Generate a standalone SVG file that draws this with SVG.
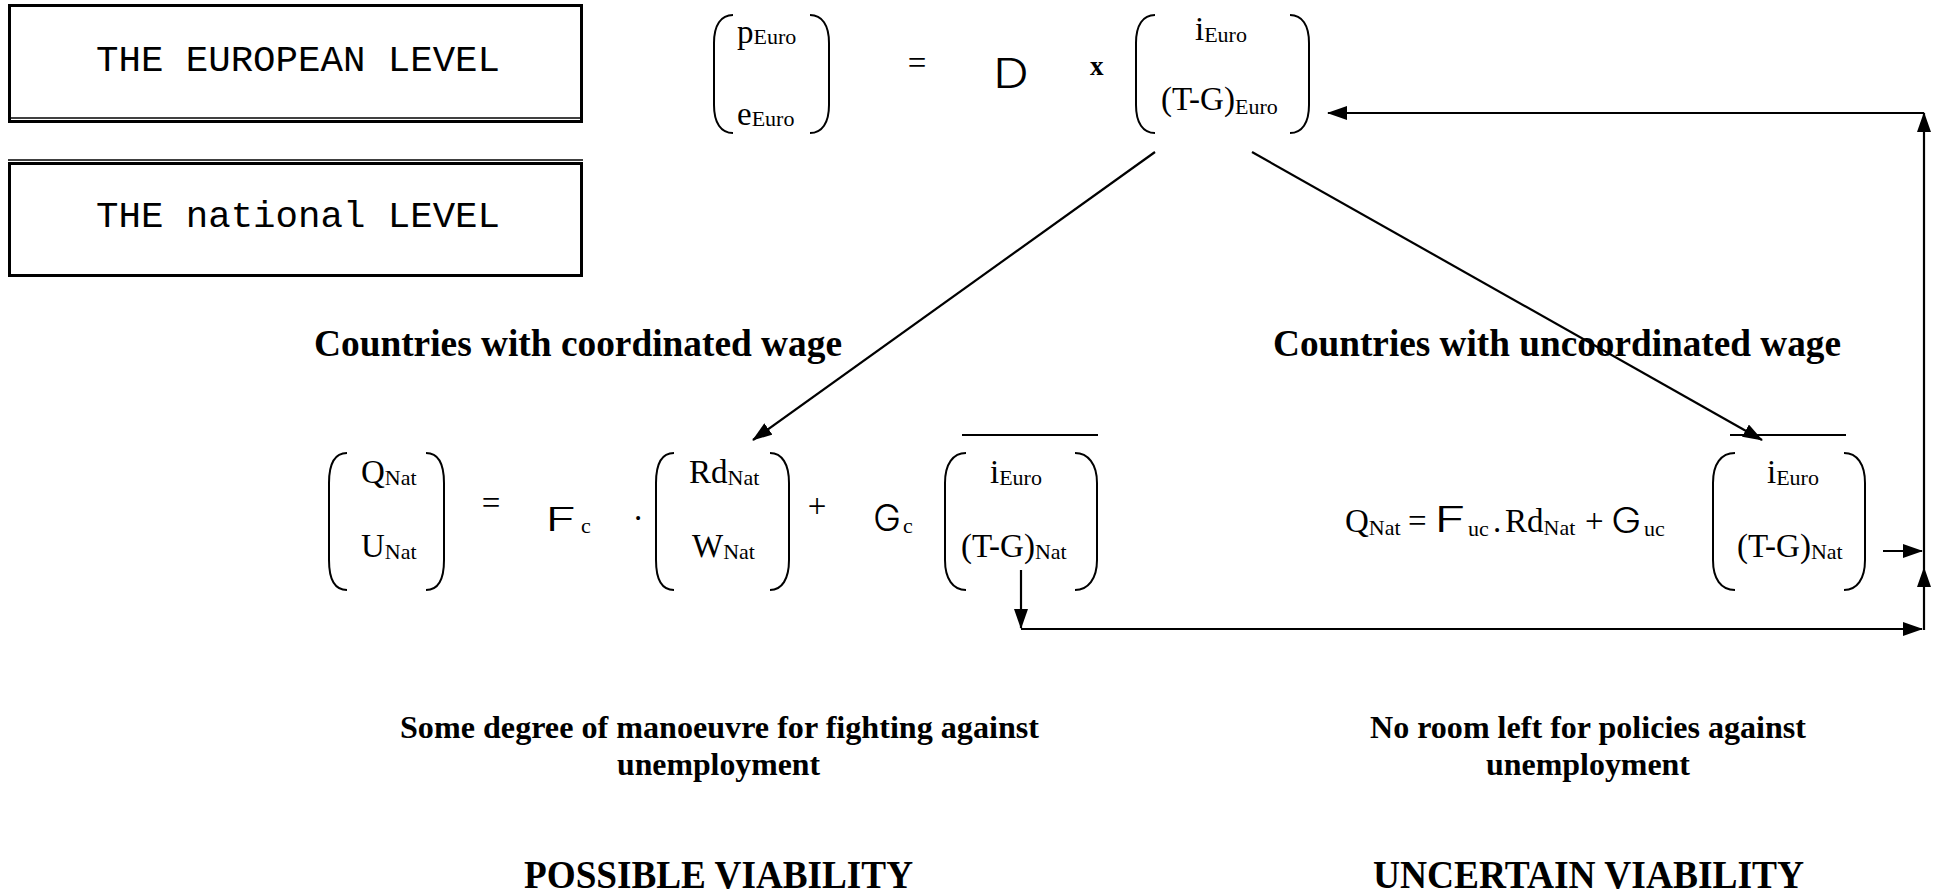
<svg xmlns="http://www.w3.org/2000/svg" width="1934" height="895" viewBox="0 0 1934 895">
  <style>
    text { fill: #000; }
    .t { font-family: "Liberation Serif", "Times New Roman", serif; font-size: 33px; }
    .s { font-size: 22px; }
    .hd { font-family: "Liberation Serif", "Times New Roman", serif; font-weight: bold; }
    .lv { font-family: "Liberation Mono", "Courier New", monospace; font-size: 36px; }
    .wl { font-family: Inter, "DejaVu Sans", sans-serif; font-weight: 300; }
    .frame { fill: none; stroke: #000; stroke-width: 3; }
    .rule { stroke: #000; stroke-width: 1.5; }
    .par { fill: none; stroke: #000; stroke-width: 2; }
    .bar { stroke: #000; stroke-width: 2; }
    .cn { fill: none; stroke: #000; stroke-width: 2.2; marker-end: url(#ah); }
  </style>
  <defs>
    <marker id="ah" markerUnits="userSpaceOnUse" markerWidth="20" markerHeight="14" refX="19" refY="7" orient="auto">
      <path d="M0,0 L20,7 L0,14 z" fill="#000"/>
    </marker>
  </defs>

  <!-- level captions -->
  <g id="european-level">
    <rect class="frame" x="9.5" y="5.5" width="572" height="116"/>
    <line class="rule" x1="11" y1="118" x2="580" y2="118"/>
    <text class="lv" x="96" y="71" textLength="404" lengthAdjust="spacingAndGlyphs">THE EUROPEAN LEVEL</text>
  </g>
  <g id="national-level">
    <line class="rule" x1="8" y1="160" x2="583" y2="160"/>
    <rect class="frame" x="9.5" y="163.5" width="572" height="112"/>
    <text class="lv" x="96" y="227" textLength="404" lengthAdjust="spacingAndGlyphs">THE national LEVEL</text>
  </g>

  <!-- European equation: (p, e) = D x (i, T-G) -->
  <g id="euro-outputs">
    <path class="par" d="M733,15 C721,15 714,25 714,43 L714,105 C714,123 721,133 733,133"/>
    <path class="par" d="M810,15 C822,15 829,25 829,43 L829,105 C829,123 822,133 810,133"/>
    <text class="t" x="737" y="43">p<tspan class="s" dy="1">Euro</tspan></text>
    <text class="t" x="737" y="125">e<tspan class="s" dy="1">Euro</tspan></text>
  </g>
  <g id="euro-operator">
    <text class="t" x="917" y="74" text-anchor="middle">=</text>
    <text class="wl" font-size="41" transform="translate(993,88) scale(1.22,1)">D</text>
    <text class="hd" font-size="27" x="1090" y="75">x</text>
  </g>
  <g id="euro-instruments">
    <path class="par" d="M1155,15 C1143,15 1136,25 1136,43 L1136,105 C1136,123 1143,133 1155,133"/>
    <path class="par" d="M1290,15 C1302,15 1309,25 1309,43 L1309,105 C1309,123 1302,133 1290,133"/>
    <text class="t" x="1195" y="40">i<tspan class="s" dy="2">Euro</tspan></text>
    <text class="t" x="1161" y="110">(T-G)<tspan class="s" dy="4">Euro</tspan></text>
  </g>

  <!-- group headings -->
  <g id="heading-coordinated">
    <text class="hd" font-size="37" x="314" y="356" textLength="528" lengthAdjust="spacingAndGlyphs">Countries with coordinated wage</text>
  </g>
  <g id="heading-uncoordinated">
    <text class="hd" font-size="37" x="1273" y="356" textLength="568" lengthAdjust="spacingAndGlyphs">Countries with uncoordinated wage</text>
  </g>

  <!-- coordinated countries: (Q, U) = Fc . (Rd, W) + Gc (i, T-G) -->
  <g id="nat-outputs">
    <path class="par" d="M347,453 C335,453 329,464 329,483 L329,560 C329,579 335,590 347,590"/>
    <path class="par" d="M426,453 C438,453 444,464 444,483 L444,560 C444,579 438,590 426,590"/>
    <text class="t" x="361" y="483">Q<tspan class="s" dy="2">Nat</tspan></text>
    <text class="t" x="361" y="557">U<tspan class="s" dy="2">Nat</tspan></text>
  </g>
  <g id="coord-operator">
    <text class="t" x="491" y="514" text-anchor="middle">=</text>
    <text class="wl" font-size="33" transform="translate(545,531) scale(1.65,1)">F</text>
    <text class="t s" x="581" y="533">c</text>
    <text class="t" x="634" y="520">.</text>
  </g>
  <g id="nat-wages">
    <path class="par" d="M674,453 C662,453 656,464 656,483 L656,560 C656,579 662,590 674,590"/>
    <path class="par" d="M770,453 C782,453 789,464 789,483 L789,560 C789,579 782,590 770,590"/>
    <text class="t" x="689" y="483">Rd<tspan class="s" dy="2">Nat</tspan></text>
    <text class="t" x="692" y="557">W<tspan class="s" dy="2">Nat</tspan></text>
  </g>
  <g id="coord-policy-operator">
    <text class="t" x="817" y="517" text-anchor="middle">+</text>
    <text class="wl" font-size="37" transform="translate(873,531) scale(1.02,1)">G</text>
    <text class="t s" x="903" y="533">c</text>
  </g>
  <g id="coord-instruments">
    <line class="bar" x1="962" y1="435" x2="1098" y2="435"/>
    <path class="par" d="M966,453 C953,453 945,464 945,483 L945,560 C945,579 953,590 966,590"/>
    <path class="par" d="M1075,453 C1088,453 1097,464 1097,483 L1097,560 C1097,579 1088,590 1075,590"/>
    <text class="t" x="990" y="483">i<tspan class="s" dy="2">Euro</tspan></text>
    <text class="t" x="961" y="557">(T-G)<tspan class="s" dy="2">Nat</tspan></text>
  </g>

  <!-- uncoordinated countries: Q = Fuc . Rd + Guc (i, T-G) -->
  <g id="uncoord-equation">
    <text class="t" x="1345" y="532">Q<tspan class="s" dy="3">Nat</tspan></text>
    <text class="t" x="1408" y="532">=</text>
    <text class="wl" font-size="35" transform="translate(1434,532) scale(1.58,1)">F</text>
    <text class="t s" x="1468" y="536">uc</text>
    <text class="t" x="1493" y="532">.</text>
    <text class="t" x="1505" y="532">Rd<tspan class="s" dy="3">Nat</tspan></text>
    <text class="t" x="1585" y="532">+</text>
    <text class="wl" font-size="35" transform="translate(1611,533) scale(1.17,1)">G</text>
    <text class="t s" x="1644" y="536">uc</text>
  </g>
  <g id="uncoord-instruments">
    <line class="bar" x1="1730" y1="435" x2="1846" y2="435"/>
    <path class="par" d="M1735,453 C1721,453 1713,464 1713,483 L1713,560 C1713,579 1721,590 1735,590"/>
    <path class="par" d="M1844,453 C1857,453 1865,464 1865,483 L1865,560 C1865,579 1857,590 1844,590"/>
    <text class="t" x="1767" y="483">i<tspan class="s" dy="2">Euro</tspan></text>
    <text class="t" x="1737" y="557">(T-G)<tspan class="s" dy="2">Nat</tspan></text>
  </g>

  <!-- outcomes -->
  <g id="outcome-coordinated">
    <text class="hd" font-size="32" x="400" y="738" textLength="639" lengthAdjust="spacingAndGlyphs">Some degree of manoeuvre for fighting against</text>
    <text class="hd" font-size="32" x="617" y="775" textLength="203" lengthAdjust="spacingAndGlyphs">unemployment</text>
  </g>
  <g id="outcome-uncoordinated">
    <text class="hd" font-size="32" x="1370" y="738" textLength="436" lengthAdjust="spacingAndGlyphs">No room left for policies against</text>
    <text class="hd" font-size="32" x="1486" y="775" textLength="204" lengthAdjust="spacingAndGlyphs">unemployment</text>
  </g>
  <g id="verdict-coordinated">
    <text class="hd" font-size="41" x="524" y="888" textLength="389" lengthAdjust="spacingAndGlyphs">POSSIBLE VIABILITY</text>
  </g>
  <g id="verdict-uncoordinated">
    <text class="hd" font-size="41" x="1373" y="888" textLength="431" lengthAdjust="spacingAndGlyphs">UNCERTAIN VIABILITY</text>
  </g>

  <!-- connectors -->
  <g id="connectors">
    <line class="cn" x1="1155" y1="152" x2="753" y2="440"/>
    <line class="cn" x1="1252" y1="152" x2="1762" y2="440"/>
    <line class="cn" x1="1021" y1="570" x2="1021" y2="628"/>
    <line class="cn" x1="1021" y1="629" x2="1922" y2="629"/>
    <line class="cn" x1="1924" y1="630" x2="1924" y2="568"/>
    <line class="cn" x1="1883" y1="551" x2="1922" y2="551"/>
    <line class="cn" x1="1924" y1="568" x2="1924" y2="113"/>
    <line class="cn" x1="1924" y1="113" x2="1328" y2="113"/>
  </g>
</svg>
